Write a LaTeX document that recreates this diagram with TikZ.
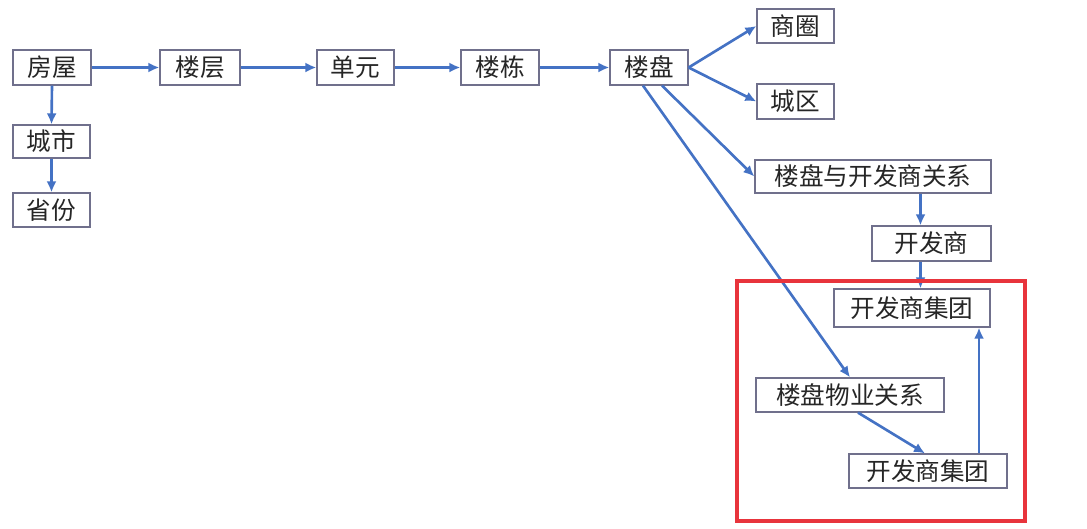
\documentclass[tikz,border=0pt]{standalone}
\usepackage{fontspec}
\setmainfont{Noto Sans CJK SC}
\usetikzlibrary{arrows.meta,positioning,calc}

\definecolor{linkblue}{RGB}{68,114,196}
\definecolor{boxline}{RGB}{112,112,140}
\definecolor{markred}{RGB}{232,52,60}

\begin{document}
\begin{tikzpicture}[
    entity/.style={draw=boxline, fill=white, line width=0.7pt, align=center,
        minimum width=1.56cm, minimum height=0.70cm, inner sep=1pt,
        text=black!85, font=\fontsize{14}{16}\selectfont},
    arrow/.style={draw=linkblue, -{Latex[length=2.2mm, width=2.0mm]},
        line width=1.5pt},
    focus/.style={draw=markred, line width=2pt}
]
    \useasboundingbox (0, 0) rectangle (21.74, -10.56);

    % main chain
    \node[entity] (house) at (1.04, -1.35) {房屋};
    \node[entity, minimum width=1.60cm] (floor) at (4.00, -1.35) {楼层};
    \node[entity, minimum width=1.54cm] (unit) at (7.11, -1.35) {单元};
    \node[entity] (building) at (10.00, -1.35) {楼栋};
    \node[entity] (estate) at (12.98, -1.35) {楼盘};

    \node[entity, minimum width=1.54cm, minimum height=0.66cm]
        (city) at (1.03, -2.83) {城市};
    \node[entity, minimum width=1.54cm, minimum height=0.68cm]
        (province) at (1.03, -4.20) {省份};

    \draw[arrow] (house) -- (floor);
    \draw[arrow] (floor) -- (unit);
    \draw[arrow] (unit) -- (building);
    \draw[arrow] (building) -- (estate);
    \draw[arrow] (house.south) -- (city.north);
    \draw[arrow] (city.south) -- (province.north);

    % estate side
    \node[entity, minimum width=1.54cm, minimum height=0.68cm]
        (tradearea) at (15.91, -0.52) {商圈};
    \node[entity, minimum width=1.54cm]
        (district) at (15.91, -2.03) {城区};
    \node[entity, minimum width=4.72cm, minimum height=0.66cm]
        (estdev) at (17.46, -3.53) {楼盘与开发商关系};
    \node[entity, minimum width=2.38cm]
        (developer) at (18.63, -4.87) {开发商};
    \node[entity, minimum width=3.12cm, minimum height=0.76cm]
        (devgroup) at (18.24, -6.16) {开发商集团};
    \node[entity, minimum width=3.76cm, minimum height=0.68cm]
        (estprop) at (17.00, -7.90) {楼盘物业关系};
    \node[entity, minimum width=3.16cm, minimum height=0.68cm]
        (propgroup) at (18.56, -9.42) {开发商集团};

    \draw[arrow] (estate.east) -- (tradearea.west);
    \draw[arrow] (estate.east) -- (district.west);
    \draw[arrow] ([xshift=0.26cm]estate.south) -- (estdev.west);
    \draw[arrow] ([xshift=-0.12cm]estate.south) -- (estprop.north);

    \coordinate (devx) at ([xshift=-0.22cm]developer.north);
    \draw[arrow] (estdev.south -| devx) -- (devx);
    \draw[arrow] (developer.south -| devx) -- (devgroup.north -| devx);

    \draw[arrow] ([xshift=0.16cm]estprop.south)
        -- ([xshift=-0.06cm]propgroup.north);
    \coordinate (upx) at ([xshift=1.02cm]propgroup.north);
    \draw[arrow] (upx) -- (upx |- devgroup.south);

    % highlighted area
    \draw[focus] (14.74, -5.62) rectangle (20.50, -10.42);
\end{tikzpicture}
\end{document}
